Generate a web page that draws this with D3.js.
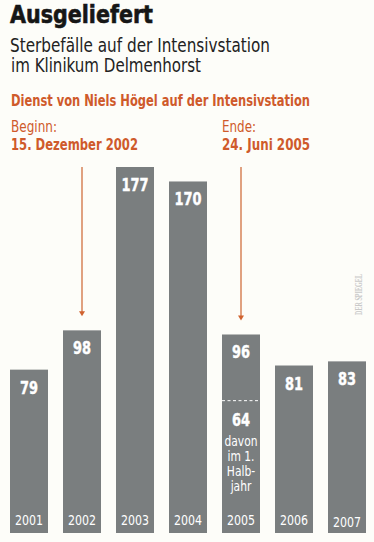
<!DOCTYPE html>
<html><head><meta charset="utf-8">
<script src="https://cdn.jsdelivr.net/npm/d3@7"></script>
<style>
html,body{margin:0;padding:0;background:#fdfdf9;}
svg{display:block;}
</style></head>
<body>
<script>
const years = ["2001","2002","2003","2004","2005","2006","2007"];
const deaths = [79, 98, 177, 170, 96, 81, 83];
const firstHalf2005 = 64;
const firstHalfNote = ["davon","im 1.","Halb-","jahr"];
const arrowYears = ["2002","2005"];

const W = 374, H = 542;
const svg = d3.select("body").append("svg").attr("width", W).attr("height", H);
svg.append("rect").attr("width", W).attr("height", H).attr("fill", "#fdfdf9");

const NARROW = "'Liberation Sans Narrow','DejaVu Sans Condensed','DejaVu Sans',sans-serif";
const ORANGE = "#cf5a2b";
const BAR = "#7a7e7f";

// squeeze a text to a target width (or factor of its natural width)
function fit(sel, target, factor) {
  sel.each(function() {
    const len = this.getComputedTextLength();
    const t = target != null ? target : len * factor;
    if (t < len) d3.select(this).attr("textLength", t).attr("lengthAdjust", "spacingAndGlyphs");
  });
  return sel;
}

const x = d3.scaleBand().domain(years).range([10, 366]).paddingInner(15/53).paddingOuter(0);
const y = d3.scaleLinear().domain([0, 177]).range([533, 167]);

// Titles
fit(svg.append("text").attr("x", 10).attr("y", 23).text("Ausgeliefert")
  .attr("font-family", NARROW).attr("font-weight", "bold").attr("font-size", 25).attr("fill", "#161616")
  .attr("stroke", "#161616").attr("stroke-width", 0.6), 143);
fit(svg.append("text").attr("x", 10).attr("y", 52).text("Sterbefälle auf der Intensivstation")
  .attr("font-family", NARROW).attr("font-size", 19).attr("fill", "#222"), 260);
fit(svg.append("text").attr("x", 11).attr("y", 72).text("im Klinikum Delmenhorst")
  .attr("font-family", NARROW).attr("font-size", 19).attr("fill", "#222"), 190);

fit(svg.append("text").attr("x", 11).attr("y", 106).text("Dienst von Niels Högel auf der Intensivstation")
  .attr("font-family", NARROW).attr("font-weight", "bold").attr("font-size", 15).attr("fill", ORANGE), 299);

const notes = [
  {x: 11, l1: "Beginn:", l2: "15. Dezember 2002", w1: 46, w2: 127},
  {x: 222, l1: "Ende:", l2: "24. Juni 2005", w1: 34, w2: 88}
];
notes.forEach(n => {
  fit(svg.append("text").attr("x", n.x).attr("y", 132).text(n.l1)
    .attr("font-family", NARROW).attr("font-size", 15.5).attr("fill", ORANGE), n.w1);
  fit(svg.append("text").attr("x", n.x).attr("y", 150).text(n.l2)
    .attr("font-family", NARROW).attr("font-weight", "bold").attr("font-size", 15.5).attr("fill", ORANGE), n.w2);
});

// Bars
const data = years.map((yr, i) => ({year: yr, value: deaths[i]}));
svg.selectAll("rect.bar").data(data).join("rect").attr("class", "bar")
  .attr("x", d => x(d.year)).attr("width", x.bandwidth())
  .attr("y", d => y(d.value)).attr("height", d => y(0) - y(d.value))
  .attr("fill", BAR);

// Value labels
fit(svg.selectAll("text.val").data(data).join("text").attr("class", "val")
  .attr("x", d => x(d.year) + x.bandwidth()/2).attr("y", d => y(d.value) + 24)
  .attr("text-anchor", "middle").text(d => d.value)
  .attr("font-family", NARROW).attr("font-weight", "bold").attr("font-size", 18).attr("fill", "#fff")
  .attr("stroke", "#fff").attr("stroke-width", 0.4), null, 0.8);

// Year labels
fit(svg.selectAll("text.yr").data(data).join("text").attr("class", "yr")
  .attr("x", d => x(d.year) + x.bandwidth()/2).attr("y", (d, i) => i === 6 ? 527 : 525)
  .attr("text-anchor", "middle").text(d => d.year)
  .attr("font-family", NARROW).attr("font-size", 14.5).attr("fill", "#fff"), 28);

// 2005 first half
const x05 = x("2005");
svg.append("line").attr("x1", x05).attr("x2", x05 + x.bandwidth())
  .attr("y1", y(firstHalf2005)).attr("y2", y(firstHalf2005))
  .attr("stroke", "#fff").attr("stroke-width", 1).attr("stroke-dasharray", "3,2.5");
fit(svg.append("text").attr("x", x05 + x.bandwidth()/2).attr("y", y(firstHalf2005) + 25)
  .attr("text-anchor", "middle").text(firstHalf2005)
  .attr("font-family", NARROW).attr("font-weight", "bold").attr("font-size", 18).attr("fill", "#fff")
  .attr("stroke", "#fff").attr("stroke-width", 0.4), null, 0.8);
firstHalfNote.forEach((t, i) => {
  fit(svg.append("text").attr("x", x05 + x.bandwidth()/2).attr("y", 446 + i*15)
    .attr("text-anchor", "middle").text(t)
    .attr("font-family", NARROW).attr("font-size", 14).attr("fill", "#fff"), null, 0.85);
});

// Arrows
const ARROW = "#d98a62";
arrowYears.forEach(yr => {
  const v = deaths[years.indexOf(yr)];
  const cx = x(yr) + x.bandwidth()/2;
  const tip = y(v) - 14;
  svg.append("line").attr("x1", cx).attr("x2", cx).attr("y1", 167).attr("y2", tip - 3)
    .attr("stroke", ARROW).attr("stroke-width", 1.6);
  svg.append("path").attr("d", `M${cx-3},${tip-5}L${cx+3},${tip-5}L${cx},${tip}Z`).attr("fill", "#d0622f");
});

// Watermark
fit(svg.append("text").attr("transform", "translate(362,315) rotate(-90)")
  .text("DER SPIEGEL").attr("font-family", "'Liberation Serif','DejaVu Serif',serif")
  .attr("font-weight", "bold").attr("font-size", 11).attr("fill", "#c9c9c9"), 41);
</script>
</body></html>
